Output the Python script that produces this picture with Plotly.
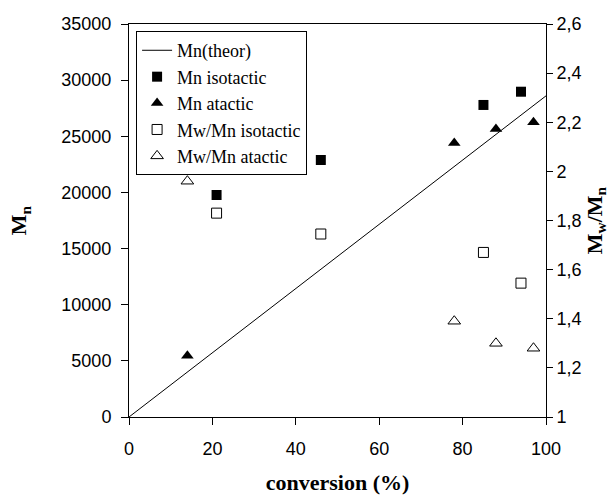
import plotly.graph_objects as go

# ---- data ----
conv_theor = [0, 100]
mn_theor = [0, 28600]

conv_iso = [21, 46, 85, 94]
mn_iso = [19770, 22890, 27790, 28970]
pdi_iso = [1.83, 1.745, 1.67, 1.545]

conv_ata = [14, 78, 88, 97]
mn_ata = [5450, 24400, 25650, 26250]
pdi_ata = [1.96, 1.39, 1.30, 1.28]

x_ticks = [0, 20, 40, 60, 80, 100]
y_ticks = [0, 5000, 10000, 15000, 20000, 25000, 30000, 35000]
y_ticktext = ["0", "5000", "10000", "15000", "20000", "25000", "30000", "35000"]
y2_ticks = [1, 1.2, 1.4, 1.6, 1.8, 2, 2.2, 2.4, 2.6]
y2_ticktext = ["1", "1,2", "1,4", "1,6", "1,8", "2", "2,2", "2,4", "2,6"]

SANS = "Liberation Sans, Arial, sans-serif"
SERIF = "Liberation Serif, Times New Roman, serif"

fig = go.Figure()
fig.add_trace(go.Scatter(x=conv_theor, y=mn_theor, mode="lines", name="Mn(theor)",
                         line=dict(color="black", width=1)))
fig.add_trace(go.Scatter(x=conv_iso, y=mn_iso, mode="markers", name="Mn isotactic",
                         marker=dict(symbol="square", size=10, color="black")))
fig.add_trace(go.Scatter(x=conv_ata, y=mn_ata, mode="markers", name="Mn atactic",
                         marker=dict(symbol="triangle-up", size=11, color="black")))
fig.add_trace(go.Scatter(x=conv_iso, y=pdi_iso, mode="markers", name="Mw/Mn isotactic",
                         yaxis="y2",
                         marker=dict(symbol="square-open", size=10, color="black",
                                     line=dict(width=1, color="black"))))
fig.add_trace(go.Scatter(x=conv_ata, y=pdi_ata, mode="markers", name="Mw/Mn atactic",
                         yaxis="y2",
                         marker=dict(symbol="triangle-up-open", size=11, color="black",
                                     line=dict(width=1, color="black"))))

fig.update_layout(
    width=612, height=495,
    margin=dict(l=129, r=66, t=24, b=78),
    paper_bgcolor="white", plot_bgcolor="white",
    showlegend=True,
    legend=dict(x=0.017, y=0.982, xanchor="left", yanchor="top",
                bgcolor="white", bordercolor="black", borderwidth=1,
                font=dict(family=SERIF, size=18, color="black"),
                itemwidth=30),
    xaxis=dict(range=[0, 100], tickvals=x_ticks, ticks="outside", ticklen=7,
               tickcolor="black", showline=True, linecolor="black", linewidth=1,
               mirror=True, showgrid=False, zeroline=False, ticklabelstandoff=8,
               automargin=False,
               tickfont=dict(family=SANS, size=18, color="black"),
               title=dict(text="<b>conversion (%)</b>", standoff=22,
                          font=dict(family=SERIF, size=22, color="black"))),
    yaxis=dict(range=[0, 35000], tickvals=y_ticks, ticktext=y_ticktext,
               ticks="outside", ticklen=7, tickcolor="black",
               showline=True, linecolor="black", linewidth=1,
               showgrid=False, zeroline=False, ticklabelstandoff=6,
               automargin=False,
               tickfont=dict(family=SANS, size=18, color="black"),
               title=dict(text="<b>M<sub>n</sub></b>", standoff=28,
                          font=dict(family=SERIF, size=22, color="black"))),
    yaxis2=dict(range=[1, 2.6], tickvals=y2_ticks, ticktext=y2_ticktext,
                overlaying="y", side="right", anchor="x",
                ticks="outside", ticklen=6, tickcolor="black",
                showline=True, linecolor="black", linewidth=1,
                showgrid=False, zeroline=False, automargin=False,
                tickfont=dict(family=SANS, size=18, color="black"),
                title=dict(text="<b>M<sub>w</sub>/M<sub>n</sub></b>", standoff=2,
                           font=dict(family=SERIF, size=22, color="black"))),
    yaxis3=dict(range=[1, 2.6], tickvals=y2_ticks, overlaying="y", side="right",
                anchor="x", ticks="inside", ticklen=6, tickcolor="black",
                automargin=False,
                showticklabels=False, showline=False, showgrid=False, zeroline=False),
)

fig.write_html("out.html")
